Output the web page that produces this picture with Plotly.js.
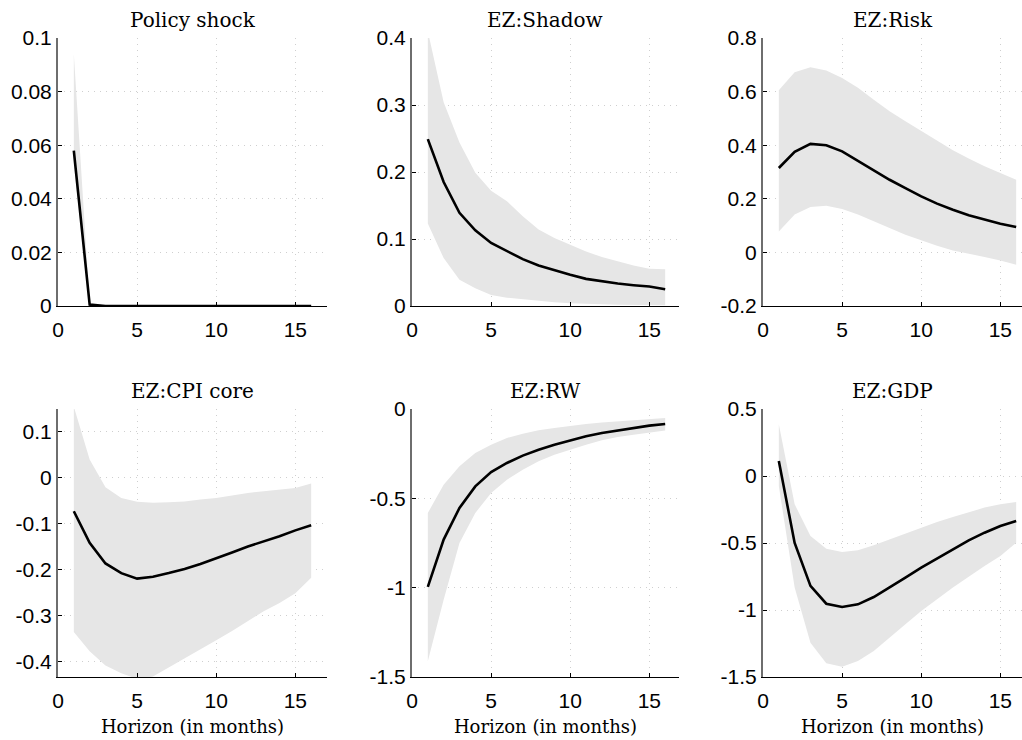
<!DOCTYPE html>
<html>
<head>
<meta charset="utf-8">
<script src="https://cdn.plot.ly/plotly-3.0.1.min.js"></script>
<style>html,body{margin:0;padding:0;background:#fff;}#chart{width:1022px;height:740px;}</style>
</head>
<body>
<div id="chart"></div>
<script>
// Horizon (months)
const horizon = [1,2,3,4,5,6,7,8,9,10,11,12,13,14,15,16];

const titles = ["Policy shock","EZ:Shadow","EZ:Risk","EZ:CPI core","EZ:RW","EZ:GDP"];
const xTitle = "Horizon (in months)";

// Policy shock
const shockMed   = [0.058,0.0005,0,0,0,0,0,0,0,0,0,0,0,0,0,0];
const shockUpper = [0.094,0.001,0.0002,0,0,0,0,0,0,0,0,0,0,0,0,0];
const shockLower = [0.053,0,0,0,0,0,0,0,0,0,0,0,0,0,0,0];

// EZ:Shadow
const shadowMed   = [0.249,0.185,0.139,0.113,0.094,0.0815,0.07,0.0605,0.053,0.0465,0.0405,0.0365,0.0335,0.031,0.029,0.025];
const shadowUpper = [0.41,0.304,0.244,0.199,0.172,0.1565,0.134,0.114,0.1015,0.0915,0.0815,0.073,0.0665,0.0605,0.0555,0.055];
const shadowLower = [0.123,0.0715,0.039,0.0265,0.0165,0.0125,0.01,0.0075,0.0055,0.004,0.003,0.0025,0.002,0.0015,0.001,0.001];

// EZ:Risk
const riskMed   = [0.315,0.375,0.405,0.40,0.377,0.342,0.305,0.271,0.24,0.209,0.182,0.159,0.139,0.122,0.107,0.095];
const riskUpper = [0.605,0.672,0.691,0.679,0.651,0.614,0.570,0.527,0.489,0.452,0.415,0.381,0.35,0.321,0.296,0.271];
const riskLower = [0.078,0.141,0.169,0.174,0.162,0.141,0.116,0.091,0.066,0.045,0.025,0.0075,-0.005,-0.017,-0.03,-0.046];

// EZ:CPI core
const cpiMed   = [-0.0725,-0.141,-0.186,-0.207,-0.219,-0.215,-0.207,-0.198,-0.187,-0.175,-0.162,-0.149,-0.138,-0.127,-0.114,-0.103];
const cpiUpper = [0.155,0.04,-0.02,-0.0435,-0.0515,-0.054,-0.053,-0.051,-0.047,-0.0435,-0.038,-0.0326,-0.029,-0.025,-0.022,-0.0123];
const cpiLower = [-0.335,-0.377,-0.408,-0.425,-0.437,-0.432,-0.413,-0.393,-0.373,-0.353,-0.333,-0.312,-0.29,-0.272,-0.251,-0.217];

// EZ:RW
const rwMed   = [-0.996,-0.731,-0.554,-0.433,-0.353,-0.302,-0.261,-0.228,-0.2,-0.175,-0.153,-0.134,-0.119,-0.106,-0.093,-0.084];
const rwUpper = [-0.582,-0.424,-0.321,-0.246,-0.2,-0.162,-0.138,-0.119,-0.106,-0.093,-0.084,-0.075,-0.069,-0.062,-0.056,-0.05];
const rwLower = [-1.412,-1.067,-0.75,-0.582,-0.47,-0.396,-0.34,-0.293,-0.256,-0.228,-0.2,-0.175,-0.157,-0.144,-0.131,-0.121];

// EZ:GDP
const gdpMed   = [0.112,-0.5,-0.82,-0.953,-0.978,-0.958,-0.903,-0.833,-0.759,-0.684,-0.614,-0.547,-0.48,-0.423,-0.373,-0.336];
const gdpUpper = [0.386,-0.211,-0.448,-0.542,-0.567,-0.555,-0.517,-0.473,-0.43,-0.386,-0.343,-0.306,-0.269,-0.236,-0.211,-0.194];
const gdpLower = [-0.075,-0.833,-1.244,-1.398,-1.423,-1.381,-1.306,-1.206,-1.107,-1.007,-0.92,-0.833,-0.751,-0.672,-0.597,-0.498];

// Axis settings
const yRanges = [[0,0.1],[0,0.4],[-0.2,0.8],[-0.433,0.15],[-1.5,0],[-1.5,0.5]];
const yTicks = [
  [0,0.02,0.04,0.06,0.08,0.1],
  [0,0.1,0.2,0.3,0.4],
  [-0.2,0,0.2,0.4,0.6,0.8],
  [-0.4,-0.3,-0.2,-0.1,0,0.1],
  [-1.5,-1,-0.5,0],
  [-1.5,-1,-0.5,0,0.5]
];
const xTicks = [0,5,10,15];

const panels = [
  [shockMed, shockUpper, shockLower],
  [shadowMed, shadowUpper, shadowLower],
  [riskMed, riskUpper, riskLower],
  [cpiMed, cpiUpper, cpiLower],
  [rwMed, rwUpper, rwLower],
  [gdpMed, gdpUpper, gdpLower]
];

const SERIF = "DejaVu Serif";
const SANS = "Liberation Sans, Arial, sans-serif";

const W = 1022, H = 740;
const colPx = [[58,327],[412,679],[763,1022]];
const rowPx = [[38,306],[409,677]];
const pxPerUnit = 269/17;

const traces = [];
const layout = {
  width: W, height: H,
  margin: {l:0,r:0,t:0,b:0},
  paper_bgcolor: "#fff", plot_bgcolor: "#fff",
  showlegend: false,
  annotations: []
};

panels.forEach((p, i) => {
  const r = Math.floor(i/3), c = i%3;
  const n = i+1;
  const xa = "x" + (n===1?"":n), ya = "y" + (n===1?"":n);
  const xk = "xaxis" + (n===1?"":n), yk = "yaxis" + (n===1?"":n);
  const [med, up, lo] = p;
  traces.push({
    x: horizon.concat(horizon.slice().reverse()),
    y: up.concat(lo.slice().reverse()),
    type: "scatter", mode: "lines", fill: "toself",
    fillcolor: "#e6e6e6", line: {width: 0, color: "rgba(0,0,0,0)"},
    xaxis: xa, yaxis: ya, hoverinfo: "skip"
  });
  traces.push({
    x: horizon, y: med, type: "scatter", mode: "lines",
    line: {color: "#000", width: 2.6},
    xaxis: xa, yaxis: ya
  });
  const xd = [colPx[c][0]/W, colPx[c][1]/W];
  const yd = [1 - rowPx[r][1]/H, 1 - rowPx[r][0]/H];
  const xmax = (colPx[c][1]-colPx[c][0])/pxPerUnit;
  layout[xk] = {
    domain: xd, range: [0, xmax], anchor: ya,
    tickvals: xTicks, ticktext: xTicks.map(String),
    ticks: "inside", ticklen: 4, tickcolor: "#000", tickwidth: 1,
    ticklabelstandoff: 5,
    showline: true, linecolor: "#000", linewidth: 1.2,
    showgrid: true, gridcolor: "#cfcfcf", griddash: "1px,5px", gridwidth: 1,
    zeroline: false,
    tickfont: {family: SANS, size: 21, color: "#000"},
    fixedrange: true
  };
  if (r === 1) {
    layout[xk].title = {text: xTitle, standoff: 9,
      font: {family: SERIF, size: 18, color: "#000"}};
  }
  layout[yk] = {
    domain: yd, range: yRanges[i], anchor: xa,
    tickvals: yTicks[i], ticktext: yTicks[i].map(String),
    ticks: "inside", ticklen: 4, tickcolor: "#000", tickwidth: 1,
    showline: true, linecolor: "#6e6e6e", linewidth: 2,
    showgrid: true, gridcolor: "#cfcfcf", griddash: "1px,5px", gridwidth: 1,
    zeroline: false,
    tickfont: {family: SANS, size: 21, color: "#000"},
    fixedrange: true
  };
  layout.annotations.push({
    text: titles[i], xref: "paper", yref: "paper",
    x: (xd[0]+xd[1])/2, y: yd[1], xanchor: "center", yanchor: "bottom",
    yshift: 4, showarrow: false,
    font: {family: SERIF, size: 20, color: "#000"}
  });
});

Plotly.newPlot("chart", traces, layout, {displayModeBar: false, staticPlot: true});
</script>
</body>
</html>
